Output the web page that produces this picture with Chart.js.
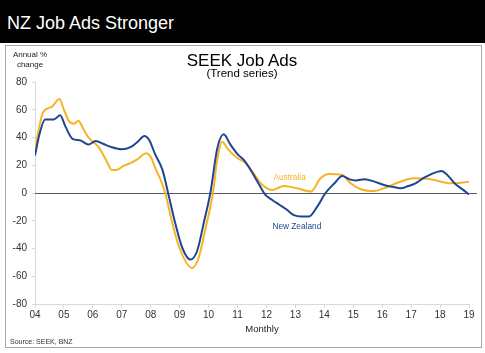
<!DOCTYPE html>
<html>
<head>
<meta charset="utf-8">
<script src="https://cdn.jsdelivr.net/npm/chart.js@4/dist/chart.umd.min.js"></script>
<style>
  body { margin: 0; width: 485px; height: 353px; background: #fff; position: relative; overflow: hidden;
         font-family: 'Liberation Sans', Arial, sans-serif; }
  .abs { position: absolute; white-space: nowrap; }
  #header { left: 0; top: 0; width: 485px; height: 43px; background: #000; }
  #headText { left: 7px; top: 14px; font-size: 18px; line-height: 18px; color: #fff; }
  #frame { left: 5px; top: 45px; width: 475px; height: 301px; border: 1px solid #a6a6a6; }
  #chart { position: absolute; left: 0; top: 0; }
  .center { transform: translateX(-50%); text-align: center; }
</style>
</head>
<body>
<div id="header" class="abs"></div>
<div id="headText" class="abs">NZ Job Ads Stronger</div>
<div id="frame" class="abs"></div>
<canvas id="chart" width="485" height="353"></canvas>
<div class="abs center" style="left:242px; top:52px; font-size:17px; line-height:17px; color:#000;">SEEK Job Ads</div>
<div class="abs center" style="left:242px; top:68px; font-size:11.5px; line-height:11.5px; color:#000;">(Trend series)</div>
<div class="abs center" style="left:30px; top:51px; font-size:8px; line-height:8px; color:#222;">Annual %</div>
<div class="abs center" style="left:30px; top:61px; font-size:8px; line-height:8px; color:#222;">change</div>
<div class="abs center" style="left:262px; top:324px; font-size:9.5px; line-height:9.5px; color:#222;">Monthly</div>
<div class="abs" style="left:10px; top:338px; font-size:7px; line-height:7px; color:#333;">Source: SEEK, BNZ</div>
<script>
// SEEK job ads, annual % change (trend)
var nzYears = [2004.00, 2004.15, 2004.35, 2004.55, 2004.65, 2004.87, 2005.05, 2005.30, 2005.55, 2005.85,
  2006.10, 2006.35, 2006.65, 2007.00, 2007.30, 2007.55, 2007.78, 2007.95, 2008.15, 2008.40,
  2008.60, 2008.85, 2009.10, 2009.37, 2009.60, 2009.85, 2010.06, 2010.30, 2010.52, 2010.75,
  2011.00, 2011.25, 2011.50, 2011.75, 2011.95, 2012.20, 2012.45, 2012.70, 2012.95, 2013.20,
  2013.47, 2013.75, 2014.04, 2014.35, 2014.62, 2014.85, 2015.08, 2015.40, 2015.75, 2016.06,
  2016.35, 2016.64, 2016.90, 2017.15, 2017.45, 2017.68, 2018.05, 2018.25, 2018.50, 2018.75, 2019.00];
var nzChange = [27, 42, 53, 53, 53, 56, 48, 39, 38, 35,
  37.5, 35.5, 33, 31.5, 33, 37, 41, 38, 28, 17,
  0, -22, -40, -48, -42, -20, 0, 32, 42.3, 35,
  28, 23, 15, 6, -1, -5, -8.5, -12, -16, -17,
  -17, -10, 0, 7, 12.2, 10, 9, 10, 8, 5.8,
  4.5, 3.4, 5, 7, 11, 13.4, 15.9, 13, 7, 3, -1];

var auYears = [2004.00, 2004.12, 2004.29, 2004.58, 2004.84, 2005.00, 2005.20, 2005.35, 2005.50, 2005.65,
  2005.85, 2006.20, 2006.45, 2006.66, 2006.80, 2007.06, 2007.30, 2007.52, 2007.84, 2008.00,
  2008.16, 2008.35, 2008.50, 2008.75, 2009.00, 2009.43, 2009.65, 2009.90, 2010.15, 2010.30,
  2010.47, 2010.65, 2011.00, 2011.22, 2011.50, 2011.80, 2012.20, 2012.60, 2013.06, 2013.53,
  2013.87, 2014.16, 2014.62, 2014.91, 2015.26, 2015.72, 2016.06, 2016.53, 2017.10, 2017.68,
  2018.37, 2019.00];
var auChange = [29, 45, 58.6, 62, 67.7, 60, 51, 50, 52, 47,
  40, 33, 24, 16.5, 16.5, 19.5, 21.5, 24, 28.6, 26,
  18, 9, 0, -22, -40, -54, -47, -25, 0, 24,
  37, 32, 25, 22.5, 16, 7, 2.2, 5, 3.4, 1,
  10.6, 13.7, 13, 7, 2.7, 1.4, 3.4, 7.4, 10.6, 9.9,
  7, 8.1];

var seriesNames = ['New Zealand', 'Australia'];
var xTickLabels = ['04','05','06','07','08','09','10','11','12','13','14','15','16','17','18','19'];
var yTicks = [-80, -60, -40, -20, 0, 20, 40, 60, 80];

function toPoints(xs, ys) {
  return xs.map(function (x, i) { return { x: x, y: ys[i] }; });
}

Chart.defaults.font.family = "'Liberation Sans', Arial, sans-serif";

// zero line across the plot, a little past the last tick like the original
var zeroLine = {
  id: 'zeroLine',
  beforeDatasetsDraw: function (chart) {
    var c = chart.ctx, a = chart.chartArea;
    var y = chart.scales.y.getPixelForValue(0);
    c.save();
    c.strokeStyle = '#595959';
    c.lineWidth = 1;
    c.beginPath();
    c.moveTo(a.left, Math.round(y) + 0.5);
    c.lineTo(a.right + 8, Math.round(y) + 0.5);
    c.stroke();
    c.restore();
  }
};

// series names written next to the lines
var seriesNotes = {
  id: 'seriesNotes',
  afterDatasetsDraw: function (chart, args, opts) {
    var c = chart.ctx;
    c.save();
    c.font = '8.3px ' + Chart.defaults.font.family;
    c.textAlign = 'center';
    c.textBaseline = 'middle';
    opts.notes.forEach(function (n) {
      c.fillStyle = n.color;
      c.fillText(n.text, chart.scales.x.getPixelForValue(n.x), chart.scales.y.getPixelForValue(n.y));
    });
    c.restore();
  }
};

new Chart(document.getElementById('chart'), {
  type: 'line',
  data: {
    datasets: [{
      label: seriesNames[0],
      data: toPoints(nzYears, nzChange),
      borderColor: '#1f4690',
      borderWidth: 2,
      pointRadius: 0,
      cubicInterpolationMode: 'monotone',
      order: 1
    }, {
      label: seriesNames[1],
      data: toPoints(auYears, auChange),
      borderColor: '#f6b326',
      borderWidth: 2,
      pointRadius: 0,
      cubicInterpolationMode: 'monotone',
      order: 2
    }]
  },
  options: {
    responsive: false,
    animation: false,
    layout: { padding: { left: 0, top: 82, right: 16, bottom: 0 } },
    plugins: {
      legend: { display: false },
      tooltip: { enabled: false },
      seriesNotes: {
        notes: [
          { text: seriesNames[1], x: 2012.8, y: 10.8, color: '#f6b326' },
          { text: seriesNames[0], x: 2013.05, y: -24.5, color: '#1f4690' }
        ]
      }
    },
    scales: {
      x: {
        type: 'linear',
        min: 2004,
        max: 2019,
        afterFit: function (s) { s.height = 49; },
        afterBuildTicks: function (s) {
          s.ticks = xTickLabels.map(function (l, i) { return { value: 2004 + i }; });
        },
        ticks: {
          autoSkip: false,
          maxRotation: 0,
          padding: 1,
          color: '#333',
          font: { size: 10 },
          callback: function (v) { return xTickLabels[Math.round(v - 2004)]; }
        },
        grid: { drawOnChartArea: false, tickLength: 4, color: '#d9d9d9' },
        border: { color: '#d9d9d9' }
      },
      y: {
        min: -80,
        max: 80,
        afterFit: function (s) { s.width = 35; },
        afterBuildTicks: function (s) {
          s.ticks = yTicks.map(function (v) { return { value: v }; });
        },
        ticks: { padding: 5, color: '#333', font: { size: 10 } },
        grid: { drawOnChartArea: false, tickLength: 3, color: '#d9d9d9' },
        border: { color: '#d9d9d9' }
      }
    }
  },
  plugins: [zeroLine, seriesNotes]
});
</script>
</body>
</html>
